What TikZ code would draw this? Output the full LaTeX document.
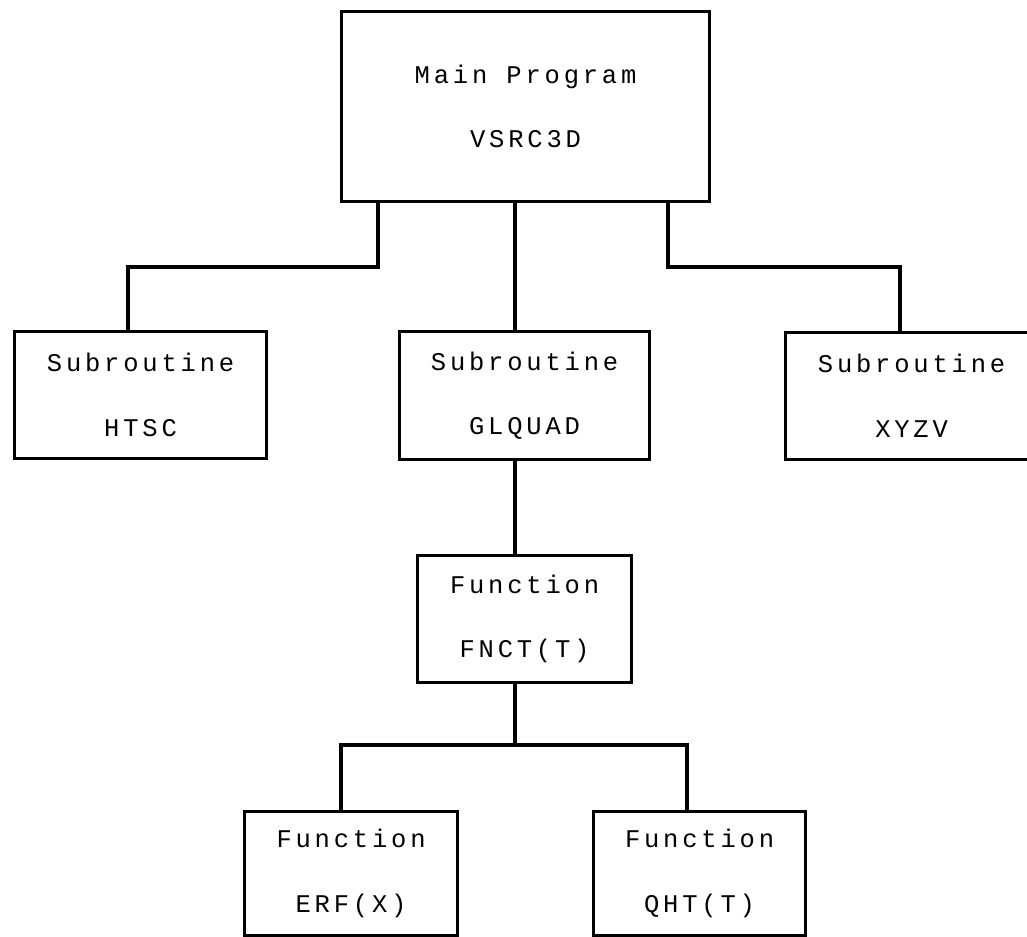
\documentclass[tikz,border=0pt]{standalone}
\usepackage{fontspec}
\newfontfamily\plotfont[LetterSpace=15]{Liberation Mono}
\usepackage{tikz}

\tikzset{
  box/.style={draw, line width=1.8pt, anchor=north west, align=center, inner sep=0pt,
    font=\plotfont\fontsize{14.5pt}{36.8pt}\selectfont},
  link/.style={line width=1.9pt}
}

\begin{document}
\begin{tikzpicture}[x=0.02cm, y=-0.02cm]
    \clip (0,0) rectangle (1027,936);
    \fill[white] (0,0) rectangle (1027,936);
    % program units
    \node[box, minimum width=7.36cm, minimum height=3.8cm] (main) at (340,10) {Main Program\\VSRC3D};
    \node[box, minimum width=5.04cm, minimum height=2.54cm] (htsc) at (13,330) {Subroutine\\HTSC};
    \node[box, minimum width=5cm, minimum height=2.56cm] (glquad) at (398,330) {Subroutine\\GLQUAD};
    \node[box, minimum width=5.04cm, minimum height=2.54cm] (xyzv) at (784,331) {Subroutine\\XYZV};
    \node[box, minimum width=4.28cm, minimum height=2.54cm] (fnct) at (416,554) {Function\\FNCT(T)};
    \node[box, minimum width=4.26cm, minimum height=2.48cm] (erf) at (243,810) {Function\\ERF(X)};
    \node[box, minimum width=4.24cm, minimum height=2.48cm] (qht) at (592,810) {Function\\QHT(T)};
    % calls
    \coordinate (leftbend) at (378,267);
    \coordinate (rightbend) at (668,267);
    \coordinate (mid) at (515,0);
    \coordinate (fork) at (515,745);
    \coordinate (htscin) at (128,0);
    \coordinate (xyzvin) at (900,0);
    \coordinate (erfin) at (341,0);
    \coordinate (qhtin) at (687,0);
    \draw[link] (main.south -| leftbend) -- (leftbend) -| (htsc.north -| htscin);
    \draw[link] (main.south -| mid) -- (glquad.north -| mid);
    \draw[link] (main.south -| rightbend) -- (rightbend) -| (xyzv.north -| xyzvin);
    \draw[link] (glquad.south -| mid) -- (fnct.north -| mid);
    \draw[link] (fnct.south -| fork) -- (fork) -| (erf.north -| erfin);
    \draw[link] (fork) -| (qht.north -| qhtin);
\end{tikzpicture}
\end{document}
